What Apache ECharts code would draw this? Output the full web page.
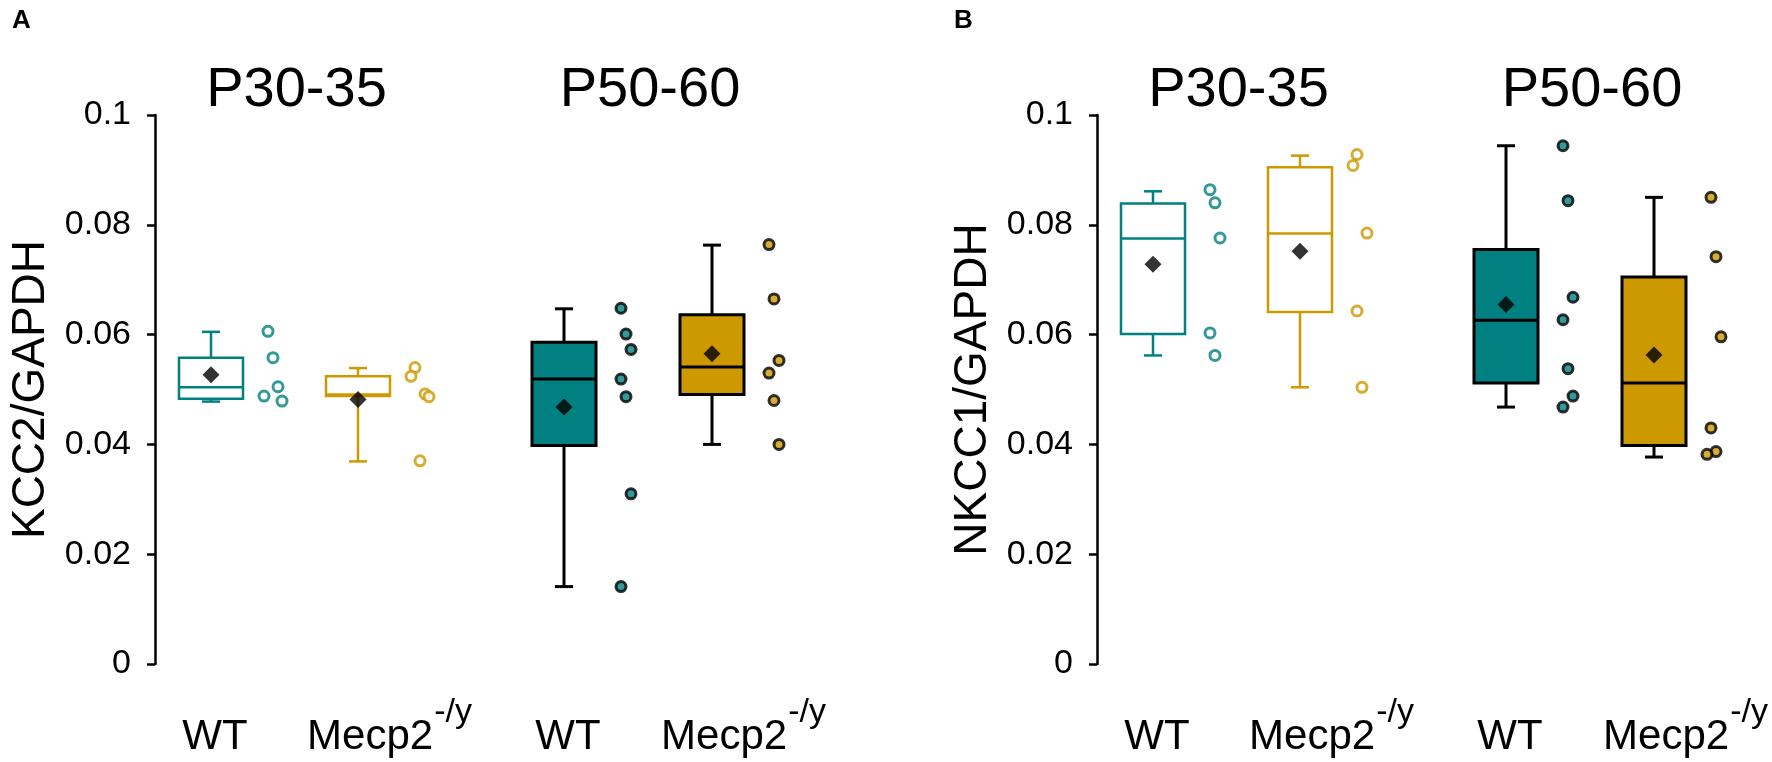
<!DOCTYPE html>
<html>
<head>
<meta charset="utf-8">
<script src="https://cdn.jsdelivr.net/npm/echarts@6/dist/echarts.min.js"></script>
<style>
html, body { margin: 0; padding: 0; background: #fff; }
#chart { width: 1772px; height: 762px; }
</style>
</head>
<body>
<div id="chart"></div>
<script>
// categories
var ageGroups = ['P30-35', 'P50-60'];
var genotypes = ['WT', 'Mecp2'];
var koSup = '-/y';
var yNames = ['KCC2/GAPDH', 'NKCC1/GAPDH'];
var panelLetters = ['A', 'B'];

// panel A: KCC2 individual animals
var kccP30WT = [0.0606, 0.0558, 0.0505, 0.0488, 0.0479];
var kccP30KO = [0.0540, 0.0524, 0.0492, 0.0487, 0.0370];
var kccP50WT = [0.0648, 0.0601, 0.0573, 0.0519, 0.0487, 0.0310, 0.0141];
var kccP50KO = [0.0764, 0.0665, 0.0553, 0.0530, 0.0480, 0.0400];
// box stats: [min, q1, median, q3, max]
var kccBoxP30WT = [0.0478, 0.0483, 0.0504, 0.0558, 0.0605];
var kccBoxP30KO = [0.0369, 0.0488, 0.0491, 0.0524, 0.0539];
var kccBoxP50WT = [0.0141, 0.0398, 0.0519, 0.0586, 0.0647];
var kccBoxP50KO = [0.0400, 0.0491, 0.0541, 0.0636, 0.0763];
var kccMeans = [0.0527, 0.0482, 0.0468, 0.0565];

// panel B: NKCC1 individual animals
var nkccP30WT = [0.0864, 0.0840, 0.0776, 0.0603, 0.0562];
var nkccP30KO = [0.0928, 0.0908, 0.0785, 0.0643, 0.0504];
var nkccP50WT = [0.0944, 0.0844, 0.0668, 0.0627, 0.0538, 0.0488, 0.0468];
var nkccP50KO = [0.0850, 0.0742, 0.0596, 0.0430, 0.0387, 0.0382];
var nkccBoxP30WT = [0.0562, 0.0601, 0.0775, 0.0839, 0.0861];
var nkccBoxP30KO = [0.0504, 0.0641, 0.0784, 0.0905, 0.0926];
var nkccBoxP50WT = [0.0468, 0.0512, 0.0626, 0.0755, 0.0944];
var nkccBoxP50KO = [0.0377, 0.0398, 0.0512, 0.0705, 0.0850];
var nkccMeans = [0.0728, 0.0752, 0.0655, 0.0563];

// y axis ticks
var yMin = 0, yMax = 0.1, yStep = 0.02;

var teal = '#008080', gold = '#cc9900';
var FONT = '"Liberation Sans", Arial, sans-serif';
var groupColor = [teal, gold, teal, gold];
var groupFilled = [false, false, true, true];

// horizontal layout inside a panel (x units = px from the y axis)
var boxX = [56, 203, 409, 557];
var pointShift = 62;
var boxHalf = 32, capHalf = 9;
var panelLeft = [155, 1097];
var plotTop = 115, plotHeight = 549, plotWidth = 660;
var labelFont = 42, supFont = 34;

var panels = [
    { points: [kccP30WT, kccP30KO, kccP50WT, kccP50KO],
      boxes: [kccBoxP30WT, kccBoxP30KO, kccBoxP50WT, kccBoxP50KO],
      means: kccMeans },
    { points: [nkccP30WT, nkccP30KO, nkccP50WT, nkccP50KO],
      boxes: [nkccBoxP30WT, nkccBoxP30KO, nkccBoxP50WT, nkccBoxP50KO],
      means: nkccMeans }
];

// spread points that sit close together
function jitter(vals) {
    var order = vals.map(function (v, i) { return i; })
        .sort(function (a, b) { return vals[b] - vals[a]; });
    var off = [], prev = null, side = 1;
    order.forEach(function (idx, k) {
        var o = ((k % 3) - 1) * 5;
        if (prev !== null && Math.abs(vals[idx] - vals[prev]) < 0.002) {
            side = -side;
            o = side * 9;
        }
        off[idx] = o;
        prev = idx;
    });
    return off;
}

function renderBox(params, api) {
    var x = api.value(0);
    var g = api.value(6);
    var lo = api.coord([x, api.value(1)]);
    var q1 = api.coord([x, api.value(2)]);
    var md = api.coord([x, api.value(3)]);
    var q3 = api.coord([x, api.value(4)]);
    var hi = api.coord([x, api.value(5)]);
    var left = api.coord([x - boxHalf, 0])[0];
    var right = api.coord([x + boxHalf, 0])[0];
    var cl = api.coord([x - capHalf, 0])[0];
    var cr = api.coord([x + capHalf, 0])[0];
    var cx = lo[0];
    var filled = groupFilled[g];
    var stroke = filled ? '#000' : groupColor[g];
    var lw = filled ? 3 : 2.5;
    function ln(x1, y1, x2, y2) {
        return { type: 'line', shape: { x1: x1, y1: y1, x2: x2, y2: y2 },
                 style: { stroke: stroke, lineWidth: lw, fill: null } };
    }
    return {
        type: 'group',
        children: [
            ln(cx, hi[1], cx, q3[1]),
            ln(cx, q1[1], cx, lo[1]),
            ln(cl, hi[1], cr, hi[1]),
            ln(cl, lo[1], cr, lo[1]),
            { type: 'rect',
              shape: { x: left, y: q3[1], width: right - left, height: q1[1] - q3[1] },
              style: { fill: filled ? groupColor[g] : '#fff', stroke: stroke, lineWidth: lw } },
            ln(left, md[1], right, md[1])
        ]
    };
}

var grids = [], xAxes = [], yAxes = [], series = [];
panels.forEach(function (pan, p) {
    grids.push({ left: panelLeft[p], top: plotTop, width: plotWidth, height: plotHeight });
    xAxes.push({ gridIndex: p, type: 'value', min: 0, max: plotWidth, show: false });
    yAxes.push({
        gridIndex: p, type: 'value', min: yMin, max: yMax, interval: yStep,
        name: yNames[p], nameLocation: 'middle', nameGap: 101, nameRotate: 90,
        nameTextStyle: { fontFamily: FONT, fontSize: 46, color: '#000' },
        axisLine: { show: true, lineStyle: { color: '#000', width: 2.5 } },
        axisTick: { show: true, length: 8, lineStyle: { color: '#000', width: 2.5 } },
        axisLabel: { fontFamily: FONT, fontSize: 34, color: '#000', margin: 24 },
        splitLine: { show: false }
    });

    series.push({
        type: 'custom', xAxisIndex: p, yAxisIndex: p, renderItem: renderBox, z: 2,
        data: pan.boxes.map(function (b, g) { return [boxX[g]].concat(b).concat([g]); })
    });

    pan.points.forEach(function (vals, g) {
        var off = jitter(vals);
        series.push({
            type: 'scatter', xAxisIndex: p, yAxisIndex: p, symbol: 'circle', symbolSize: 10, z: 3,
            itemStyle: groupFilled[g]
                ? { color: groupColor[g], borderColor: '#000', borderWidth: 3 }
                : { color: '#fff', borderColor: groupColor[g], borderWidth: 3 },
            data: vals.map(function (v, i) { return [boxX[g] + pointShift + off[i], v]; })
        });
    });

    series.push({
        type: 'scatter', xAxisIndex: p, yAxisIndex: p, symbol: 'diamond', symbolSize: 17, z: 4,
        itemStyle: { color: '#000' },
        data: pan.means.map(function (m, g) { return [boxX[g], m]; })
    });
});

var chart = echarts.init(document.getElementById('chart'));
chart.setOption({
    animation: false,
    backgroundColor: '#fff',
    grid: grids, xAxis: xAxes, yAxis: yAxes, series: series
});

// text widths for centring the superscripted label
var measure = document.createElement('canvas').getContext('2d');
function textWidth(str, size) {
    measure.font = size + 'px ' + FONT;
    return measure.measureText(str).width;
}

// texts placed through the axes' own scales
var graphics = [];
var labelY = 737;
panels.forEach(function (pan, p) {
    var finder = { xAxisIndex: p, yAxisIndex: p };
    var top = chart.convertToPixel(finder, [0, yMax]);
    graphics.push({
        type: 'text', left: top[0] - 143, top: 8,
        style: { text: panelLetters[p], font: 'bold 26px ' + FONT, fill: '#000' }
    });
    ageGroups.forEach(function (age, a) {
        var c = chart.convertToPixel(finder, [(boxX[2 * a] + boxX[2 * a + 1]) / 2 + 12, yMax]);
        graphics.push({
            type: 'text', x: c[0], y: c[1] - 24,
            style: { text: age, fontFamily: FONT, fontSize: 56, fill: '#000',
                     align: 'center', verticalAlign: 'middle' }
        });
    });
    boxX.forEach(function (bx, g) {
        var c = chart.convertToPixel(finder, [bx, yMin]);
        if (g % 2 === 0) {
            graphics.push({
                type: 'text', x: c[0] + 4, y: labelY,
                style: { text: genotypes[0], fontFamily: FONT, fontSize: labelFont, fill: '#000',
                         align: 'center', verticalAlign: 'middle' }
            });
        } else {
            var wm = textWidth(genotypes[1], labelFont), ws = textWidth(koSup, supFont);
            var x0 = c[0] + pointShift / 2 - (wm + ws) / 2;
            graphics.push({
                type: 'text', x: x0, y: labelY,
                style: { text: genotypes[1], fontFamily: FONT, fontSize: labelFont, fill: '#000',
                         align: 'left', verticalAlign: 'middle' }
            });
            graphics.push({
                type: 'text', x: x0 + wm + 1, y: labelY - 24,
                style: { text: koSup, fontFamily: FONT, fontSize: supFont, fill: '#000',
                         align: 'left', verticalAlign: 'middle' }
            });
        }
    });
});
chart.setOption({ graphic: graphics });

window.onresize = function () { chart.resize(); };
</script>
</body>
</html>
